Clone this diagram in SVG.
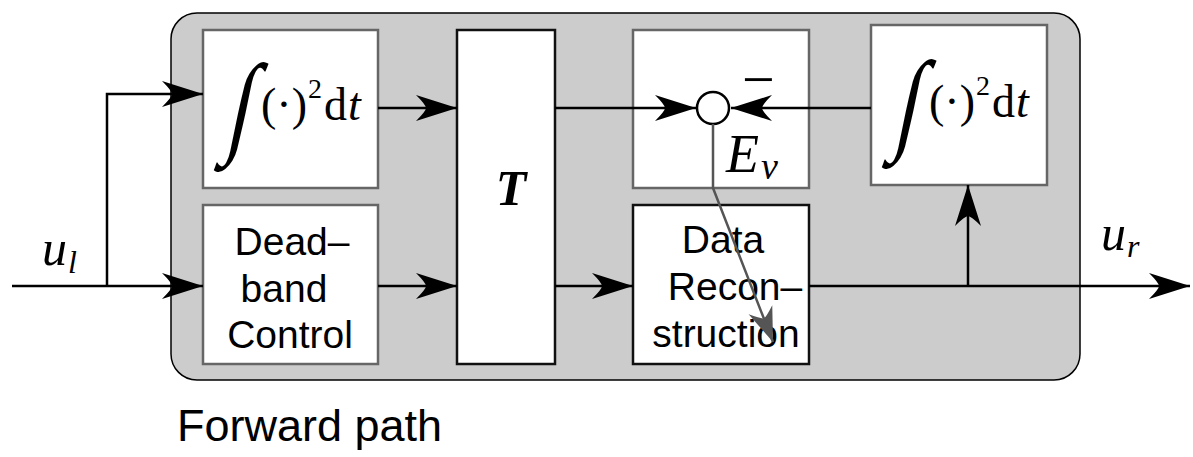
<svg xmlns="http://www.w3.org/2000/svg" width="1193" height="457" viewBox="0 0 1193 457">
<style>
.box{fill:#fff;stroke:#666;stroke-width:2.5}
.boxk{fill:#fff;stroke:#111;stroke-width:2.5}
.ln{fill:none;stroke:#000;stroke-width:2.5}
.sans{font-family:"Liberation Sans",Arial,sans-serif;fill:#000}
.ser{font-family:"Liberation Serif","Times New Roman",serif;fill:#000}
.it{font-style:italic}
</style>
<defs>
<marker id="ah" markerUnits="userSpaceOnUse" markerWidth="50" markerHeight="30" refX="0" refY="0" viewBox="-42 -15 44 30" orient="auto">
<path d="M0,0 L-41,-13 Q-31,-3 -31,0 Q-31,3 -41,13 Z" fill="#000"/>
</marker>
<marker id="ahg" markerUnits="userSpaceOnUse" markerWidth="40" markerHeight="30" refX="0" refY="0" viewBox="-32 -13 34 26" orient="auto">
<path d="M0,0 L-30,-11 Q-22,-2 -22,0 Q-22,2 -30,11 Z" fill="#555"/>
</marker>
</defs>
<g id="forward-path">
<rect x="171" y="13" width="909" height="367" rx="26" ry="26" fill="#cccccc" stroke="#000" stroke-width="1.5"/>
<text class="sans" x="177" y="441" font-size="45">Forward path</text>
</g>
<g id="integral-left">
<rect class="box" x="203" y="30" width="175" height="158"/>
<text class="ser" font-size="100" text-anchor="middle" transform="translate(236,142) skewX(-12) scale(0.85,1.12)">∫</text>
<text class="ser" x="261" y="120" font-size="46">(·)</text>
<text class="ser" x="308" y="98" font-size="28">2</text>
<text class="ser" x="324" y="120" font-size="46">d</text>
<text class="ser it" x="348" y="120" font-size="46">t</text>
</g>
<g id="deadband">
<rect class="box" x="203" y="205" width="175" height="159"/>
<text class="sans" x="292" y="255" font-size="39" text-anchor="middle">Dead–</text>
<text class="sans" x="284" y="302" font-size="39" text-anchor="middle">band</text>
<text class="sans" x="290" y="348" font-size="39" text-anchor="middle">Control</text>
</g>
<g id="T-block">
<rect class="boxk" x="457" y="30" width="98" height="334"/>
<text class="ser it" x="511" y="205" font-size="50" font-weight="bold" text-anchor="middle">T</text>
</g>
<g id="Ev-block">
<rect class="box" x="633" y="30" width="176" height="158"/>
<circle cx="713" cy="108" r="16" fill="#fff" stroke="#000" stroke-width="2.5"/>
<text class="ser" x="742" y="99" font-size="58">−</text>
<text class="ser it" x="726" y="172" font-size="54">E</text>
<text class="ser it" x="761" y="179" font-size="38">v</text>
</g>
<g id="data-reconstruction">
<rect class="boxk" x="633" y="205" width="176" height="159"/>
<text class="sans" x="723" y="253" font-size="39" text-anchor="middle">Data</text>
<text class="sans" x="735" y="300" font-size="39" text-anchor="middle">Recon–</text>
<text class="sans" x="726" y="347" font-size="39" text-anchor="middle">struction</text>
</g>
<g id="integral-right">
<rect class="box" x="871" y="25" width="176" height="160"/>
<g transform="translate(668,-3)">
<text class="ser" font-size="100" text-anchor="middle" transform="translate(236,142) skewX(-12) scale(0.85,1.12)">∫</text>
<text class="ser" x="261" y="120" font-size="46">(·)</text>
<text class="ser" x="308" y="98" font-size="28">2</text>
<text class="ser" x="324" y="120" font-size="46">d</text>
<text class="ser it" x="348" y="120" font-size="46">t</text>
</g>
</g>
<g id="labels">
<text class="ser it" x="42" y="265" font-size="50">u</text>
<text class="ser it" x="68" y="273" font-size="32">l</text>
<text class="ser it" x="1101" y="250" font-size="50">u</text>
<text class="ser it" x="1127" y="257" font-size="32">r</text>
</g>
<g id="connectors">
<path class="ln" d="M12,286 H203" marker-end="url(#ah)"/>
<path class="ln" d="M107,286 V94 H203" marker-end="url(#ah)"/>
<path class="ln" d="M378,108 H457" marker-end="url(#ah)"/>
<path class="ln" d="M378,286 H457" marker-end="url(#ah)"/>
<path class="ln" d="M555,286 H633" marker-end="url(#ah)"/>
<path class="ln" d="M555,108 H696" marker-end="url(#ah)"/>
<path class="ln" d="M871,108 H731" marker-end="url(#ah)"/>
<path class="ln" d="M809,286 H1190" marker-end="url(#ah)"/>
<path class="ln" d="M968,286 V185" marker-end="url(#ah)"/>
<path d="M713,124 V188 L773,342" fill="none" stroke="#555" stroke-width="2.5" marker-end="url(#ahg)"/>
</g>
</svg>
